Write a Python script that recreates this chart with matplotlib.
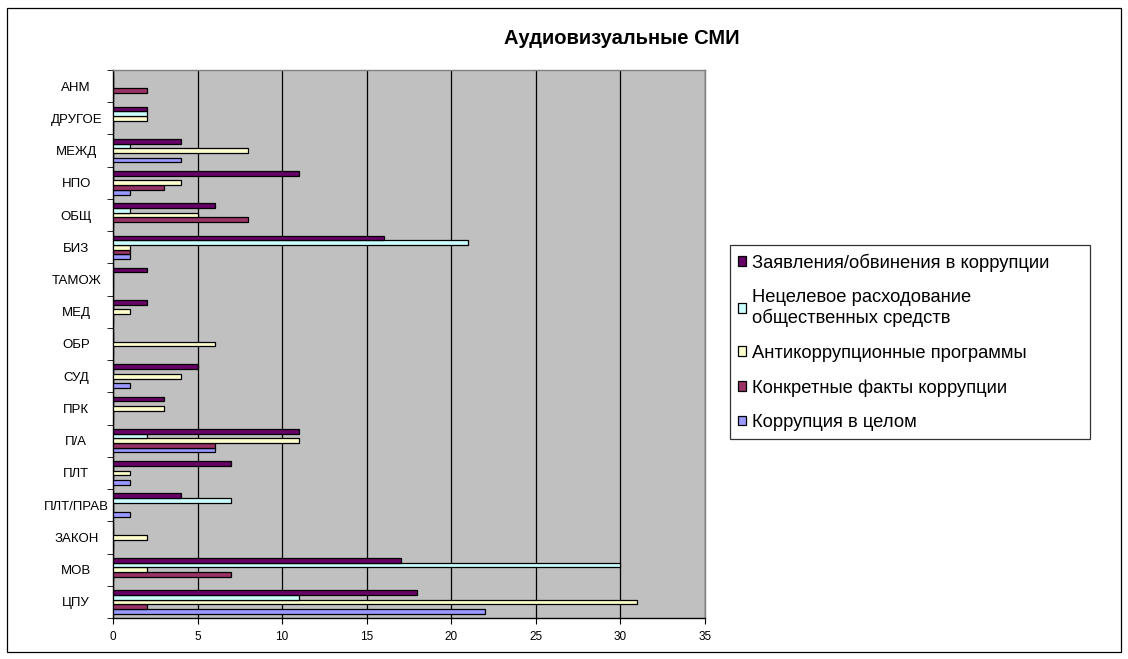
import numpy as np
import matplotlib.pyplot as plt
from matplotlib.patches import Rectangle

plt.rcParams['font.family'] = ['Liberation Sans', 'DejaVu Sans']

# Категории (снизу вверх)
categories = ['ЦПУ', 'МОВ', 'ЗАКОН', 'ПЛТ/ПРАВ', 'ПЛТ', 'П/А', 'ПРК', 'СУД',
              'ОБР', 'МЕД', 'ТАМОЖ', 'БИЗ', 'ОБЩ', 'НПО', 'МЕЖД', 'ДРУГОЕ', 'АНМ']

# Серии
korr_v_celom = [22, 0, 0, 1, 1, 6, 0, 1, 0, 0, 0, 1, 0, 1, 4, 0, 0]
konkretnye = [2, 7, 0, 0, 0, 6, 0, 0, 0, 0, 0, 1, 8, 3, 0, 0, 2]
anti_progr = [31, 2, 2, 0, 1, 11, 3, 4, 6, 1, 0, 1, 5, 4, 8, 2, 0]
necelevoe = [11, 30, 0, 7, 0, 2, 0, 0, 0, 0, 0, 21, 1, 0, 1, 2, 0]
zayavleniya = [18, 17, 0, 4, 7, 11, 3, 5, 0, 2, 2, 16, 6, 11, 4, 2, 0]

series = [
    ('Коррупция в целом', korr_v_celom, '#9999FF'),
    ('Конкретные факты коррупции', konkretnye, '#993366'),
    ('Антикоррупционные программы', anti_progr, '#FFFFCC'),
    ('Нецелевое расходование\nобщественных средств', necelevoe, '#CCFFFF'),
    ('Заявления/обвинения в коррупции', zayavleniya, '#660066'),
]

fig = plt.figure(figsize=(11.28, 6.59), dpi=100)
ax = fig.add_axes([0.1002, 0.0622, 0.5248, 0.8316])
ax.set_facecolor('#C0C0C0')

y = np.arange(len(categories))
h = 0.146
handles = []
for i, (name, vals, col) in enumerate(series):
    b = ax.barh(y + (i - 2) * h, vals, height=h, color=col,
                edgecolor='black', linewidth=0.9, zorder=3, label=name)
    handles.append(b)

ax.set_xlim(0, 35)
ax.set_ylim(-0.5, len(categories) - 0.5)
ax.set_xticks(range(0, 36, 5))
ax.set_yticks(y)
ax.set_yticklabels(categories, ha='center')
ax.set_yticks(np.arange(-0.5, len(categories), 1), minor=True)
ax.tick_params(axis='y', which='major', length=0, labelsize=9.5, pad=26.5)
ax.tick_params(axis='y', which='minor', length=4, direction='out')
ax.tick_params(axis='x', labelsize=8.5, length=4, direction='out', pad=5)
ax.grid(axis='x', color='black', linewidth=0.9, zorder=0)
for side, s in ax.spines.items():
    s.set_linewidth(1.0)
    s.set_color('black' if side in ('left', 'bottom') else '#808080')

fig.text(0.551, 0.941, 'Аудиовизуальные СМИ', ha='center', va='center',
         fontsize=14.5, fontweight='bold')

leg = fig.legend(handles[::-1], [s[0] for s in series[::-1]],
                 loc='upper left', bbox_to_anchor=(0.647, 0.332, 0.319, 0.296),
                 mode='expand',
                 fontsize=13.2, frameon=True, fancybox=False,
                 edgecolor='black', handlelength=0.45, handleheight=0.45,
                 handletextpad=0.3, labelspacing=0.95, borderpad=0.45,
                 borderaxespad=0)
leg.get_frame().set_linewidth(0.9)

fig.patches.append(Rectangle((0.006, 0.01), 0.988, 0.978, transform=fig.transFigure,
                             fill=False, edgecolor='black', linewidth=0.9))

fig.savefig('out.png', dpi=100)
